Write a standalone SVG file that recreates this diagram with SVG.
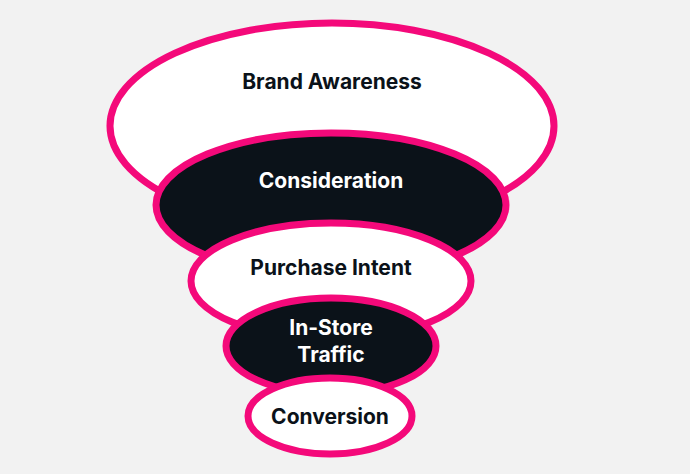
<svg xmlns="http://www.w3.org/2000/svg" width="690" height="474" viewBox="0 0 690 474">
<style>
.e{stroke:#f4097a;stroke-width:7}
.w{fill:#ffffff}.d{fill:#0b1219}
text{font-family:"Inter","Open Sans",sans-serif;font-weight:700;font-size:21px;text-anchor:middle}
.tw{fill:#0b1219}.td{fill:#ffffff}
</style>
<rect width="690" height="474" fill="#f2f2f2"/>
<g id="brand"><ellipse class="e w" cx="332" cy="126" rx="222" ry="103"/><text class="tw" x="332" y="89">Brand Awareness</text></g>
<g id="consideration"><ellipse class="e d" cx="331" cy="205" rx="175" ry="72"/><text class="td" x="331" y="188">Consideration</text></g>
<g id="purchase"><ellipse class="e w" cx="331" cy="281" rx="140" ry="58"/><text class="tw" x="331" y="275">Purchase Intent</text></g>
<g id="instore"><ellipse class="e d" cx="331" cy="346" rx="105" ry="48"/><text class="td" x="331" y="335">In-Store</text><text class="td" x="331" y="362">Traffic</text></g>
<g id="conversion"><ellipse class="e w" cx="330" cy="416" rx="82" ry="38"/><text class="tw" x="330" y="424">Conversion</text></g>
<g id="connectors"/>
</svg>
